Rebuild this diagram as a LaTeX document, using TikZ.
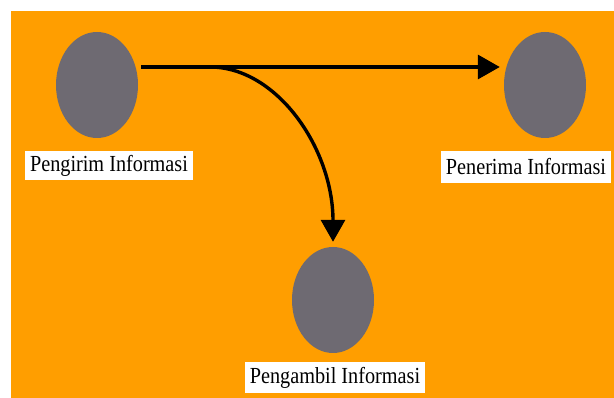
\documentclass[tikz,border=0pt]{standalone}
\usepackage{fontspec}
\setmainfont{Liberation Serif}
\newfontfamily\tagfont[FakeStretch=0.88]{Liberation Serif}
\usetikzlibrary{shapes.geometric,arrows.meta}

\definecolor{bgorange}{RGB}{255,158,0}
\definecolor{blobgray}{RGB}{110,106,114}

\tikzset{
    party/.style={ellipse, fill=blobgray, minimum width=82pt, minimum height=106pt, inner sep=0pt},
    tag/.style={fill=white, inner xsep=5pt, inner ysep=0pt, minimum height=29pt,
        font=\tagfont\fontsize{23}{26}\selectfont},
    flow/.style={line width=3.4pt, -{Triangle[length=22pt,width=24pt]}}
}

\begin{document}
\begin{tikzpicture}[x=1pt, y=-1pt]
    \useasboundingbox (0,0) rectangle (614,398);
    \fill[bgorange] (11,11) rectangle (614,398);

    \node[party] (snd) at (97,85) {};
    \node[party] (rcv) at (545,85) {};
    \node[party] (tak) at (333,300) {};

    \node[tag] (sndlbl) at (109,165.5) {Pengirim Informasi};
    \node[tag, minimum height=32pt] (rcvlbl) at (526,167) {Penerima Informasi};
    \node[tag, minimum height=31pt] (taklbl) at (335,377.5) {Pengambil Informasi};

    \coordinate (split) at (210,67);

    \draw[flow, shorten <=3pt, shorten >=4pt] (snd.east |- split) -- (rcv.west |- split);
    \draw[flow, shorten >=5pt] (split) .. controls +(67,0) and +(0,-98) .. (tak.north);
\end{tikzpicture}
\end{document}
